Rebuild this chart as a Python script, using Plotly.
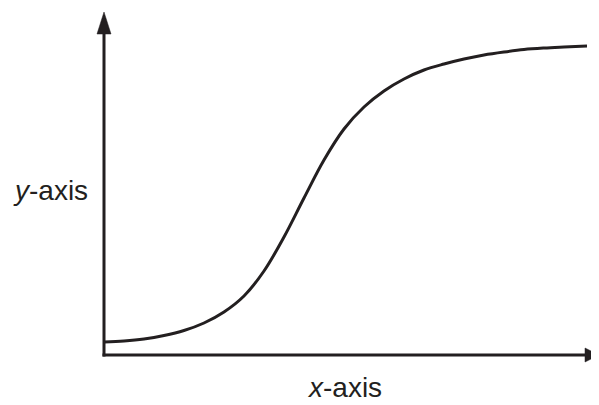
import plotly.graph_objects as go

# Curve values (arbitrary units)
x_vals = [0, 20, 40, 60, 80, 100, 120, 140, 160, 180, 200, 220, 240, 260,
          280, 300, 320, 340, 360, 380, 400, 420, 440, 460, 483]
y_vals = [13, 14, 16, 19.5, 24.5, 32, 43, 59, 84, 118, 157, 195, 226, 248,
          264, 276, 285, 291, 296, 300, 303, 305.5, 307, 308, 309]

x_label = "<i>x</i>-axis"
y_label = "<i>y</i>-axis"

INK = "#231f20"
FONT = "Liberation Sans, Arial, sans-serif"

# the page body adds an 8px offset, so the figure is sized to fit inside it
OFF = 8
PAGE_W, PAGE_H = 599, 405
W, H = PAGE_W - OFF, PAGE_H - OFF
L, R, T, B = 104 - OFF, 0, 12 - OFF, 50
pw, ph = W - L - R, H - T - B


def px(xp):
    """page pixel x -> paper x"""
    return (xp - OFF - L) / pw


def py(yp):
    """page pixel y -> paper y"""
    return (H - B - (yp - OFF)) / ph


fig = go.Figure()
fig.add_trace(go.Scatter(
    x=x_vals, y=y_vals, mode="lines",
    line=dict(color=INK, width=3, shape="spline", smoothing=1.0),
    hoverinfo="skip", showlegend=False,
))

shapes = [
    # y axis line
    dict(type="line", xref="paper", yref="paper", x0=0, y0=py(356.5), x1=0, y1=py(30),
         line=dict(color=INK, width=3)),
    # x axis line
    dict(type="line", xref="paper", yref="paper", x0=px(102.5), y0=0, x1=px(588), y1=0,
         line=dict(color=INK, width=3)),
    # y arrow head
    dict(type="path", xref="paper", yref="paper",
         path=f"M {px(104)} {py(12)} L {px(97)} {py(34)} L {px(111)} {py(34)} Z",
         fillcolor=INK, line=dict(color=INK, width=0.5)),
    # x arrow head
    dict(type="path", xref="paper", yref="paper",
         path=f"M {px(599)} {py(355)} L {px(585)} {py(348)} L {px(585)} {py(362)} Z",
         fillcolor=INK, line=dict(color=INK, width=0.5)),
]

annotations = [
    dict(text=y_label, xref="paper", yref="paper", x=px(50), y=py(190),
         xanchor="center", yanchor="middle", showarrow=False,
         font=dict(family=FONT, size=28, color=INK)),
    dict(text=x_label, xref="paper", yref="paper", x=px(344), y=py(387),
         xanchor="center", yanchor="middle", showarrow=False, borderpad=0,
         font=dict(family=FONT, size=28, color=INK)),
]

fig.update_layout(
    width=W, height=H,
    margin=dict(l=L, r=R, t=T, b=B),
    paper_bgcolor="white", plot_bgcolor="white",
    xaxis=dict(range=[0, pw], visible=False, fixedrange=True),
    yaxis=dict(range=[0, ph], visible=False, fixedrange=True),
    shapes=shapes, annotations=annotations,
    showlegend=False,
)

fig.write_html("out.html")
